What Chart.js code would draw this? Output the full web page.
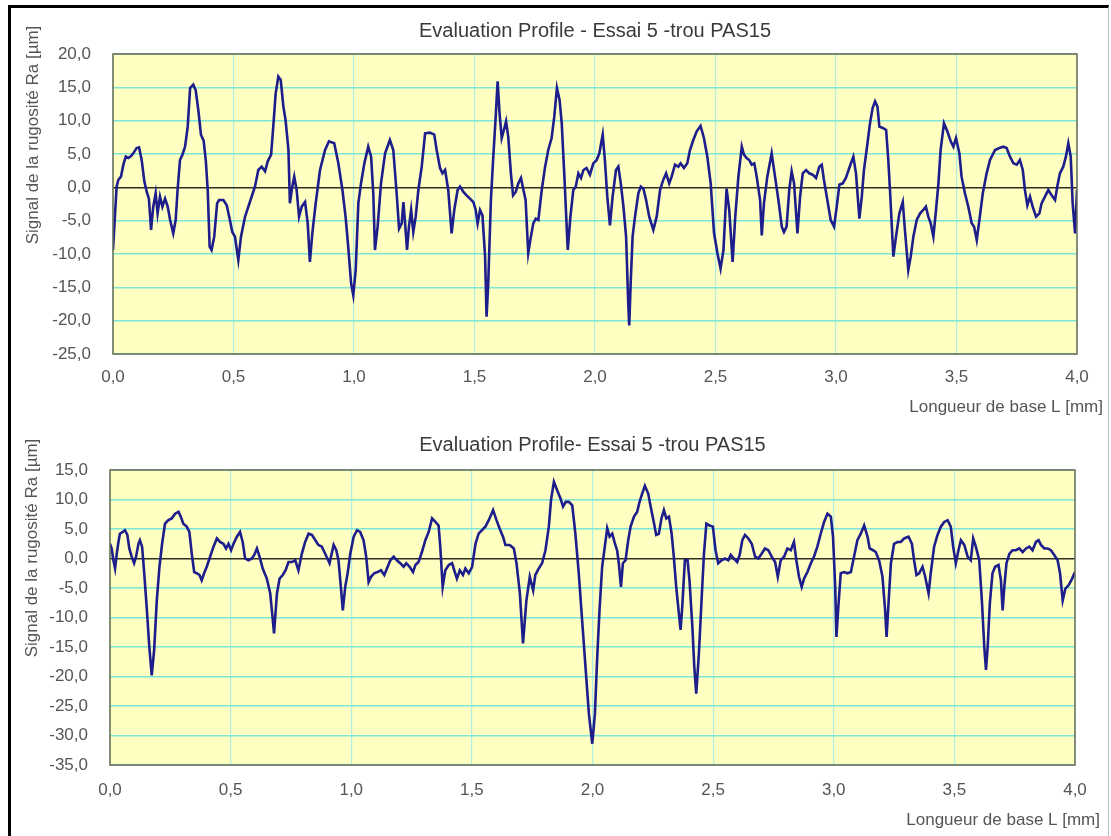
<!DOCTYPE html>
<html>
<head>
<meta charset="utf-8">
<script src="https://cdn.jsdelivr.net/npm/chart.js@4.4.1/dist/chart.umd.min.js"></script>
<style>
  html, body { margin: 0; padding: 0; background: #fff; }
  body { width: 1111px; height: 836px; position: relative; overflow: hidden; }
  #frame { position: absolute; left: 8px; top: 5px; width: 1097px; height: 840px;
           border-left: 3px solid #000; border-top: 3px solid #000; border-right: 1px solid #bbb; }
  canvas { position: absolute; left: 0; }
  #c1 { top: 0; }
  #c2 { top: 418px; }
</style>
</head>
<body>
<div id="frame"></div>
<canvas id="c1" width="1111" height="418"></canvas>
<canvas id="c2" width="1111" height="418"></canvas>
<script>
// x = longueur de base L [mm], y = signal de la rugosité [µm]
const topX = [
  0.000,0.015,0.022,0.033,0.043,0.053,0.064,0.075,0.084,0.098,0.108,0.119,0.130,0.140,0.149,
  0.158,0.167,0.177,0.185,0.195,0.205,0.216,0.227,0.237,0.250,0.260,0.268,0.278,0.288,0.299,
  0.310,0.320,0.333,0.343,0.354,0.365,0.376,0.385,0.393,0.401,0.409,0.420,0.432,0.440,0.458,
  0.472,0.485,0.495,0.506,0.520,0.531,0.548,0.568,0.589,0.603,0.617,0.631,0.642,0.656,0.665,
  0.675,0.686,0.696,0.707,0.716,0.728,0.734,0.744,0.752,0.762,0.772,0.783,0.797,0.808,0.817,
  0.827,0.841,0.859,0.880,0.896,0.918,0.935,0.952,0.965,0.976,0.988,0.997,1.007,1.018,1.029,
  1.043,1.059,1.071,1.080,1.087,1.098,1.112,1.129,1.149,1.163,1.177,1.187,1.198,1.205,1.212,
  1.220,1.228,1.237,1.246,1.256,1.267,1.281,1.295,1.315,1.333,1.343,1.357,1.367,1.378,1.391,
  1.405,1.416,1.430,1.440,1.454,1.467,1.481,1.495,1.505,1.513,1.523,1.533,1.544,1.550,1.557,
  1.568,1.578,1.588,1.596,1.604,1.613,1.622,1.631,1.640,1.651,1.660,1.671,1.682,1.693,1.703,
  1.712,1.723,1.734,1.744,1.754,1.765,1.779,1.793,1.806,1.820,1.831,1.842,1.853,1.862,1.873,
  1.887,1.898,1.910,1.920,1.931,1.942,1.952,1.965,1.979,1.993,2.007,2.018,2.032,2.041,2.051,
  2.062,2.073,2.087,2.097,2.107,2.118,2.129,2.138,2.142,2.148,2.156,2.166,2.180,2.190,2.201,
  2.212,2.225,2.242,2.256,2.270,2.281,2.295,2.308,2.318,2.332,2.346,2.355,2.369,2.383,2.394,
  2.408,2.422,2.438,2.452,2.466,2.480,2.494,2.508,2.521,2.533,2.546,2.557,2.571,2.582,2.595,
  2.609,2.618,2.629,2.640,2.650,2.661,2.671,2.685,2.692,2.701,2.715,2.733,2.747,2.761,2.775,
  2.784,2.795,2.806,2.816,2.826,2.840,2.851,2.862,2.876,2.889,2.903,2.917,2.931,2.941,2.950,
  2.964,2.978,2.992,3.003,3.014,3.028,3.041,3.055,3.072,3.083,3.097,3.107,3.116,3.127,3.141,
  3.152,3.162,3.172,3.180,3.194,3.208,3.217,3.224,3.231,3.238,3.249,3.263,3.277,3.286,3.300,
  3.310,3.321,3.335,3.349,3.362,3.373,3.383,3.393,3.404,3.415,3.425,3.434,3.448,3.462,3.476,
  3.487,3.498,3.512,3.521,3.535,3.549,3.563,3.573,3.584,3.595,3.609,3.625,3.639,3.660,3.678,
  3.694,3.708,3.722,3.736,3.750,3.763,3.775,3.784,3.794,3.805,3.816,3.830,3.844,3.853,3.867,
  3.881,3.895,3.909,3.918,3.929,3.943,3.954,3.964,3.974,3.982,3.992,4.000
];
const topY = [
  -9.4,0.1,1.1,1.6,3.4,4.6,4.4,4.7,5.1,5.9,6.0,4.1,0.9,-0.7,-1.7,
  -6.4,-2.9,-0.9,-3.9,-1.4,-2.9,-1.7,-2.9,-4.9,-6.9,-4.9,-0.4,4.1,4.9,6.1,
  9.1,14.9,15.4,14.6,11.6,7.9,7.0,4.1,-0.4,-8.9,-9.4,-7.4,-2.4,-1.9,-1.9,
  -2.7,-4.9,-6.7,-7.4,-10.9,-7.4,-4.4,-2.2,0.1,2.6,3.1,2.4,3.9,4.9,9.1,
  14.1,16.6,16.1,12.1,10.1,5.6,-2.4,0.1,1.6,-0.4,-4.4,-2.9,-2.2,-5.4,-11.2,
  -6.9,-2.4,2.6,5.6,6.9,6.6,3.6,-0.4,-4.4,-8.9,-14.4,-16.2,-12.4,-2.4,0.6,
  3.6,6.1,4.6,-0.9,-9.4,-5.9,0.6,5.1,7.1,5.6,-0.9,-6.2,-5.4,-2.2,-5.4,
  -9.4,-5.9,-3.4,-6.7,-4.4,-0.4,3.1,8.1,8.2,7.9,5.6,2.9,2.1,2.6,-0.4,
  -6.9,-3.4,-0.4,0.1,-0.7,-1.2,-1.7,-2.2,-3.4,-5.4,-3.4,-4.2,-10.4,-19.4,-14.4,
  -1.9,4.6,10.6,15.9,11.1,7.4,8.6,9.9,7.6,2.1,-1.2,-0.7,0.6,1.4,-0.4,
  -1.9,-9.9,-7.4,-5.4,-4.7,-4.9,-0.4,3.1,5.6,7.4,10.6,14.9,13.1,9.6,1.6,
  -9.4,-4.4,-0.4,0.1,2.1,1.4,2.6,2.9,1.9,3.6,4.1,5.1,7.9,4.1,-1.4,
  -5.7,-1.4,2.6,3.1,0.6,-2.9,-7.4,-17.4,-20.7,-14.4,-7.4,-4.4,-0.9,0.1,-0.2,
  -1.9,-4.4,-6.4,-4.4,-0.4,0.9,2.1,0.6,1.6,3.4,3.1,3.6,2.9,3.6,5.6,
  7.1,8.4,9.2,7.4,4.6,0.6,-6.9,-9.9,-12.2,-9.4,-0.2,-3.4,-11.2,-4.4,1.6,
  6.1,4.9,4.4,4.1,3.4,3.6,1.6,-1.9,-7.2,-2.4,1.6,5.1,1.6,-1.9,-5.9,
  -6.7,-5.9,-0.4,2.4,0.6,-6.9,-1.4,2.1,2.6,2.1,1.9,1.4,3.1,3.4,1.1,
  -1.9,-4.9,-5.9,-2.9,0.4,0.6,1.4,2.9,4.6,2.1,-4.7,-1.4,2.6,5.6,9.6,
  11.9,12.9,12.1,9.1,8.9,8.6,4.1,-0.4,-5.4,-10.4,-7.4,-3.9,-2.2,-6.4,-12.4,
  -10.4,-7.4,-4.9,-3.9,-3.4,-2.9,-4.4,-5.4,-7.4,-3.4,0.6,5.6,9.6,8.4,6.9,
  6.1,7.4,5.1,1.6,-0.9,-2.9,-5.4,-5.9,-7.9,-4.9,-0.9,2.1,4.1,5.6,5.9,
  6.1,5.9,4.6,3.6,3.4,4.1,2.6,-0.4,-2.7,-1.4,-2.9,-4.4,-3.9,-2.4,-1.4,
  -0.4,-1.2,-1.9,0.1,2.1,3.1,4.6,6.6,4.6,-2.4,-6.9,-0.4
];
const botX = [
  0.000,0.007,0.014,0.021,0.028,0.035,0.041,0.053,0.062,0.072,0.080,0.090,0.100,0.108,0.118,
  0.124,0.133,0.141,0.152,0.163,0.173,0.183,0.194,0.205,0.216,0.228,0.242,0.256,0.270,0.284,
  0.293,0.304,0.318,0.329,0.339,0.349,0.360,0.371,0.380,0.390,0.401,0.415,0.429,0.443,0.456,
  0.470,0.481,0.491,0.502,0.512,0.526,0.539,0.550,0.560,0.574,0.588,0.598,0.609,0.620,0.633,
  0.650,0.664,0.671,0.680,0.692,0.703,0.716,0.728,0.740,0.754,0.768,0.781,0.795,0.809,0.823,
  0.837,0.851,0.864,0.878,0.892,0.910,0.927,0.938,0.947,0.957,0.965,0.975,0.985,0.996,1.010,
  1.024,1.037,1.051,1.062,1.072,1.082,1.095,1.109,1.123,1.137,1.148,1.162,1.176,1.189,1.203,
  1.217,1.228,1.242,1.256,1.266,1.279,1.293,1.307,1.321,1.335,1.349,1.362,1.369,1.379,1.390,
  1.404,1.418,1.427,1.438,1.450,1.463,1.473,1.487,1.501,1.515,1.528,1.542,1.556,1.570,1.588,
  1.602,1.615,1.629,1.639,1.657,1.674,1.685,1.699,1.712,1.726,1.740,1.754,1.763,1.777,1.791,
  1.805,1.819,1.828,1.840,1.853,1.867,1.878,1.889,1.902,1.916,1.929,1.943,1.957,1.971,1.985,
  1.999,2.010,2.019,2.029,2.040,2.051,2.061,2.071,2.082,2.093,2.102,2.109,2.118,2.126,2.137,
  2.148,2.158,2.172,2.185,2.195,2.206,2.217,2.231,2.241,2.254,2.264,2.275,2.286,2.296,2.306,
  2.317,2.328,2.337,2.347,2.358,2.365,2.372,2.383,2.394,2.402,2.414,2.422,2.430,2.441,2.452,
  2.462,2.472,2.485,2.499,2.510,2.521,2.535,2.549,2.563,2.573,2.586,2.600,2.610,2.621,2.632,
  2.646,2.660,2.674,2.687,2.701,2.715,2.729,2.743,2.757,2.768,2.780,2.794,2.808,2.822,2.835,
  2.845,2.856,2.867,2.877,2.891,2.905,2.918,2.932,2.946,2.960,2.974,2.988,2.997,3.006,3.011,
  3.019,3.029,3.043,3.057,3.071,3.084,3.098,3.112,3.126,3.140,3.149,3.163,3.174,3.188,3.202,
  3.213,3.219,3.227,3.237,3.250,3.264,3.278,3.292,3.310,3.324,3.333,3.343,3.354,3.368,3.379,
  3.393,3.402,3.416,3.430,3.444,3.458,3.472,3.485,3.495,3.506,3.517,3.527,3.541,3.555,3.568,
  3.578,3.589,3.603,3.614,3.624,3.631,3.638,3.647,3.658,3.669,3.683,3.693,3.700,3.707,3.716,
  3.728,3.741,3.755,3.769,3.783,3.797,3.811,3.824,3.838,3.849,3.859,3.873,3.887,3.900,3.914,
  3.928,3.938,3.949,3.960,3.974,3.988,4.000
];
const botY = [
  2.5,1.7,-0.3,-1.7,0.8,2.8,4.2,4.5,4.8,4.0,1.7,0.3,-0.8,0.3,2.5,
  3.1,2.0,-2.0,-8.2,-15.0,-19.8,-15.5,-7.1,-1.4,2.5,5.9,6.5,6.8,7.6,7.9,
  7.1,5.9,5.4,4.5,0.8,-2.3,-2.5,-2.8,-3.7,-2.5,-1.4,0.3,2.0,3.4,2.8,
  2.5,1.7,2.5,1.4,2.5,3.7,4.5,2.8,0.0,-0.3,0.0,0.6,1.7,0.3,-1.7,
  -3.4,-5.9,-8.8,-12.7,-5.9,-3.4,-2.8,-2.0,-0.6,-0.6,-0.3,-2.0,0.8,2.8,4.2,
  4.0,3.1,2.3,2.0,0.8,-0.8,2.3,1.4,-0.3,-4.8,-8.8,-4.8,-2.5,0.8,3.7,
  4.8,4.5,3.1,0.3,-4.0,-3.1,-2.5,-2.3,-2.0,-2.8,-1.7,-0.3,0.3,-0.3,-0.8,
  -1.4,-0.8,-1.4,-2.3,-1.1,-0.6,1.1,3.1,4.5,6.8,6.2,5.6,2.0,-4.8,-2.0,
  -1.1,-0.8,-2.0,-3.4,-2.0,-2.8,-1.7,-2.5,-1.4,2.5,4.2,4.8,5.4,6.5,8.2,
  6.5,5.1,3.7,2.3,2.3,1.7,-0.8,-5.9,-14.4,-7.1,-3.1,-5.4,-2.8,-1.7,-0.8,
  1.4,5.4,9.9,13.0,11.6,10.2,8.8,9.6,9.6,9.0,4.2,-2.5,-10.5,-18.4,-26.3,
  -31.4,-26.3,-17.2,-8.8,-1.4,2.0,5.1,3.7,4.2,2.5,1.4,-0.8,-4.8,-0.8,-0.3,
  3.1,5.4,7.1,7.9,9.6,11.0,12.3,11.0,8.8,6.2,4.0,4.2,6.8,8.2,6.8,
  7.1,4.2,0.3,-4.8,-9.3,-12.1,-8.2,-0.3,-0.3,-3.7,-11.6,-18.4,-22.9,-16.1,-7.1,
  0.8,5.9,5.6,5.4,1.4,-0.8,-0.3,0.0,-0.3,0.6,0.0,-0.6,0.6,3.1,4.0,
  3.4,2.5,0.3,0.0,0.8,1.7,1.4,0.3,-0.6,-3.1,-0.3,0.3,1.7,1.4,2.8,
  -0.3,-3.1,-4.8,-3.4,-2.3,-0.8,0.3,2.0,4.2,6.2,7.6,7.1,3.7,-4.8,-13.3,
  -8.2,-2.5,-2.3,-2.5,-2.3,0.3,3.1,4.2,5.6,3.7,1.7,1.4,1.1,-0.3,-3.1,
  -8.8,-13.3,-7.6,-0.8,2.5,2.8,2.8,3.4,3.7,2.5,-0.3,-2.8,-2.5,-1.4,-3.1,
  -5.9,-2.5,2.0,4.0,5.4,6.2,6.5,5.4,2.0,-0.8,1.4,3.1,2.3,0.3,-0.3,
  3.4,2.0,-0.3,-7.1,-15.0,-18.9,-15.0,-7.6,-2.5,-1.4,-1.1,-3.7,-8.8,-4.8,-0.8,
  0.8,1.4,1.4,1.7,1.1,1.7,2.0,1.4,2.8,3.1,2.3,1.7,1.7,1.4,0.6,
  -0.3,-2.5,-7.1,-5.1,-4.5,-3.4,-2.3
];
const xTicks = { min: 0, max: 4, step: 0.5 };
const topRange = { min: -25, max: 20, step: 5 };
const botRange = { min: -35, max: 15, step: 5 };

const FONT = '"Liberation Sans", Arial, sans-serif';
const fmt = v => v.toFixed(1).replace('.', ',');

// plot background, frame and the texts placed as in the source sheet
const decoPlugin = {
  id: 'deco',
  beforeDraw(chart) {
    const { ctx, chartArea: a } = chart;
    ctx.save();
    ctx.fillStyle = '#ffffc2';
    ctx.fillRect(a.left, a.top, a.right - a.left, a.bottom - a.top);
    ctx.restore();
  },
  afterDraw(chart, args, o) {
    const { ctx, chartArea: a } = chart;
    ctx.save();
    ctx.strokeStyle = '#6b6b55';
    ctx.lineWidth = 1.5;
    ctx.strokeRect(a.left, a.top, a.right - a.left, a.bottom - a.top);

    ctx.fillStyle = '#3a3a3a';
    ctx.font = '20px ' + FONT;
    ctx.textAlign = 'center';
    ctx.textBaseline = 'middle';
    ctx.fillText(o.title, (a.left + a.right) / 2, o.titleY);

    ctx.fillStyle = '#555';
    ctx.font = '17px ' + FONT;
    ctx.textAlign = 'right';
    ctx.fillText('Longueur de base L [mm]', o.xTitleRight, o.xTitleY);

    ctx.translate(o.yTitleX, o.yTitleY);
    ctx.rotate(-Math.PI / 2);
    ctx.textAlign = 'center';
    ctx.fillText('Signal de la rugosité Ra [µm]', 0, 0);
    ctx.restore();
  }
};

function makeChart(id, xs, ys, range, pad, xPad, texts) {
  return new Chart(document.getElementById(id), {
    type: 'line',
    data: {
      datasets: [{
        data: xs.map((x, i) => ({ x: x, y: ys[i] })),
        borderColor: '#1d1d8c',
        borderWidth: 2.6,
        pointRadius: 0,
        tension: 0,
        fill: false
      }]
    },
    options: {
      responsive: false,
      animation: false,
      layout: { padding: pad },
      plugins: { legend: { display: false }, tooltip: { enabled: false }, deco: texts },
      scales: {
        x: {
          type: 'linear', min: xTicks.min, max: xTicks.max,
          afterFit: s => { s.height = 64; },
          border: { display: false },
          grid: { color: '#aef0e6', lineWidth: 1.2, drawTicks: false },
          ticks: { stepSize: xTicks.step, padding: xPad, color: '#555',
                   font: { family: FONT, size: 17 }, callback: v => fmt(v), maxRotation: 0 }
        },
        y: {
          min: range.min, max: range.max,
          afterFit: s => { s.width = 60; },
          border: { display: false },
          grid: {
            drawTicks: false,
            color: c => c.tick && c.tick.value === 0 ? '#2e2e22' : '#7ee6d6',
            lineWidth: c => c.tick && c.tick.value === 0 ? 1.5 : 1.6
          },
          ticks: { stepSize: range.step, padding: 22, color: '#555',
                   font: { family: FONT, size: 17 }, callback: v => fmt(v) }
        }
      }
    },
    plugins: [decoPlugin]
  });
}

makeChart('c1', topX, topY, topRange,
  { left: 53, right: 34, top: 54, bottom: 0 }, 13,
  { title: 'Evaluation Profile - Essai 5 -trou PAS15', titleY: 31,
    xTitleRight: 1103, xTitleY: 407, yTitleX: 33, yTitleY: 135 });

makeChart('c2', botX, botY, botRange,
  { left: 50, right: 36, top: 52, bottom: 7 }, 15,
  { title: 'Evaluation Profile- Essai 5 -trou PAS15', titleY: 27,
    xTitleRight: 1100, xTitleY: 402, yTitleX: 32, yTitleY: 130 });
</script>
</body>
</html>
